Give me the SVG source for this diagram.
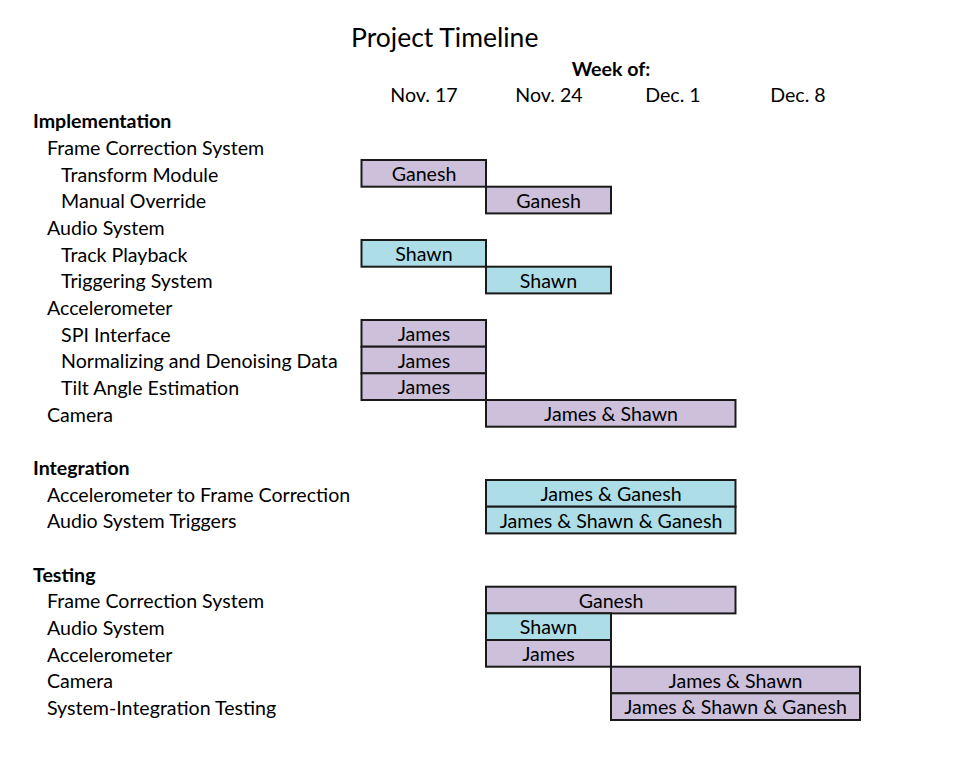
<svg xmlns="http://www.w3.org/2000/svg" width="957" height="757" viewBox="0 0 957 757">
<style>
text{font-family:Lato,"Open Sans","Liberation Sans",sans-serif;fill:#000}
.t{font-size:19.6px}
.b{font-weight:bold}
.c{text-anchor:middle}
.p{fill:#CDC0DB;stroke:#1a1a1a;stroke-width:2}
.q{fill:#ADDEE7;stroke:#1a1a1a;stroke-width:2}
</style>
<rect width="957" height="757" fill="#fff"/>
<text x="351" y="47" font-size="26.5">Project Timeline</text>
<text class="t b c" x="611" y="75.5">Week of:</text>
<g class="t c">
<text class="t c" x="424" y="102">Nov. 17</text>
<text class="t c" x="549" y="102">Nov. 24</text>
<text class="t c" x="673" y="102">Dec. 1</text>
<text class="t c" x="798" y="102">Dec. 8</text>
</g>
<g id="labels" class="t">
<text class="t b" x="33" y="128">Implementation</text>
<text class="t" x="47" y="155">Frame Correction System</text>
<text class="t" x="61" y="181.5">Transform Module</text>
<text class="t" x="61" y="208">Manual Override</text>
<text class="t" x="47" y="235">Audio System</text>
<text class="t" x="61" y="261.5">Track Playback</text>
<text class="t" x="61" y="288">Triggering System</text>
<text class="t" x="47" y="315">Accelerometer</text>
<text class="t" x="61" y="341.5">SPI Interface</text>
<text class="t" x="61" y="368">Normalizing and Denoising Data</text>
<text class="t" x="61" y="395">Tilt Angle Estimation</text>
<text class="t" x="47" y="421.5">Camera</text>
<text class="t b" x="33" y="475">Integration</text>
<text class="t" x="47" y="501.5">Accelerometer to Frame Correction</text>
<text class="t" x="47" y="528">Audio System Triggers</text>
<text class="t b" x="33" y="581.5">Testing</text>
<text class="t" x="47" y="608">Frame Correction System</text>
<text class="t" x="47" y="635">Audio System</text>
<text class="t" x="47" y="661.5">Accelerometer</text>
<text class="t" x="47" y="688">Camera</text>
<text class="t" x="47" y="715">System-Integration Testing</text>
</g>
<g id="bar-transform"><rect class="p" x="361.5" y="160" width="124.5" height="26.7"/><text class="t c" x="424" y="181">Ganesh</text></g>
<g id="bar-manual"><rect class="p" x="486" y="186.7" width="125" height="26.7"/><text class="t c" x="548.5" y="207.7">Ganesh</text></g>
<g id="bar-track"><rect class="q" x="361.5" y="240" width="124.5" height="26.7"/><text class="t c" x="424" y="261">Shawn</text></g>
<g id="bar-trigger"><rect class="q" x="486" y="266.7" width="125" height="26.7"/><text class="t c" x="548.5" y="287.7">Shawn</text></g>
<g id="bar-spi"><rect class="p" x="361.5" y="320" width="124.5" height="26.7"/><text class="t c" x="424" y="341">James</text></g>
<g id="bar-norm"><rect class="p" x="361.5" y="346.7" width="124.5" height="26.7"/><text class="t c" x="424" y="367.7">James</text></g>
<g id="bar-tilt"><rect class="p" x="361.5" y="373.3" width="124.5" height="26.7"/><text class="t c" x="424" y="394.3">James</text></g>
<g id="bar-camera"><rect class="p" x="486" y="400" width="249.5" height="26.7"/><text class="t c" x="611" y="421">James &amp; Shawn</text></g>
<g id="bar-acc-fc"><rect class="q" x="486" y="480" width="249.5" height="26.7"/><text class="t c" x="611" y="501">James &amp; Ganesh</text></g>
<g id="bar-audio-trig"><rect class="q" x="486" y="506.7" width="249.5" height="26.7"/><text class="t c" x="611" y="527.7">James &amp; Shawn &amp; Ganesh</text></g>
<g id="bar-test-fc"><rect class="p" x="486" y="586.7" width="249.5" height="26.7"/><text class="t c" x="611" y="607.7">Ganesh</text></g>
<g id="bar-test-audio"><rect class="q" x="486" y="613.3" width="125" height="26.7"/><text class="t c" x="548.5" y="634.3">Shawn</text></g>
<g id="bar-test-acc"><rect class="p" x="486" y="640" width="125" height="26.7"/><text class="t c" x="548.5" y="661">James</text></g>
<g id="bar-test-cam"><rect class="p" x="611" y="666.7" width="249" height="26.7"/><text class="t c" x="735.5" y="687.7">James &amp; Shawn</text></g>
<g id="bar-test-sit"><rect class="p" x="611" y="693.3" width="249" height="26.7"/><text class="t c" x="735.5" y="714.3">James &amp; Shawn &amp; Ganesh</text></g>
</svg>
